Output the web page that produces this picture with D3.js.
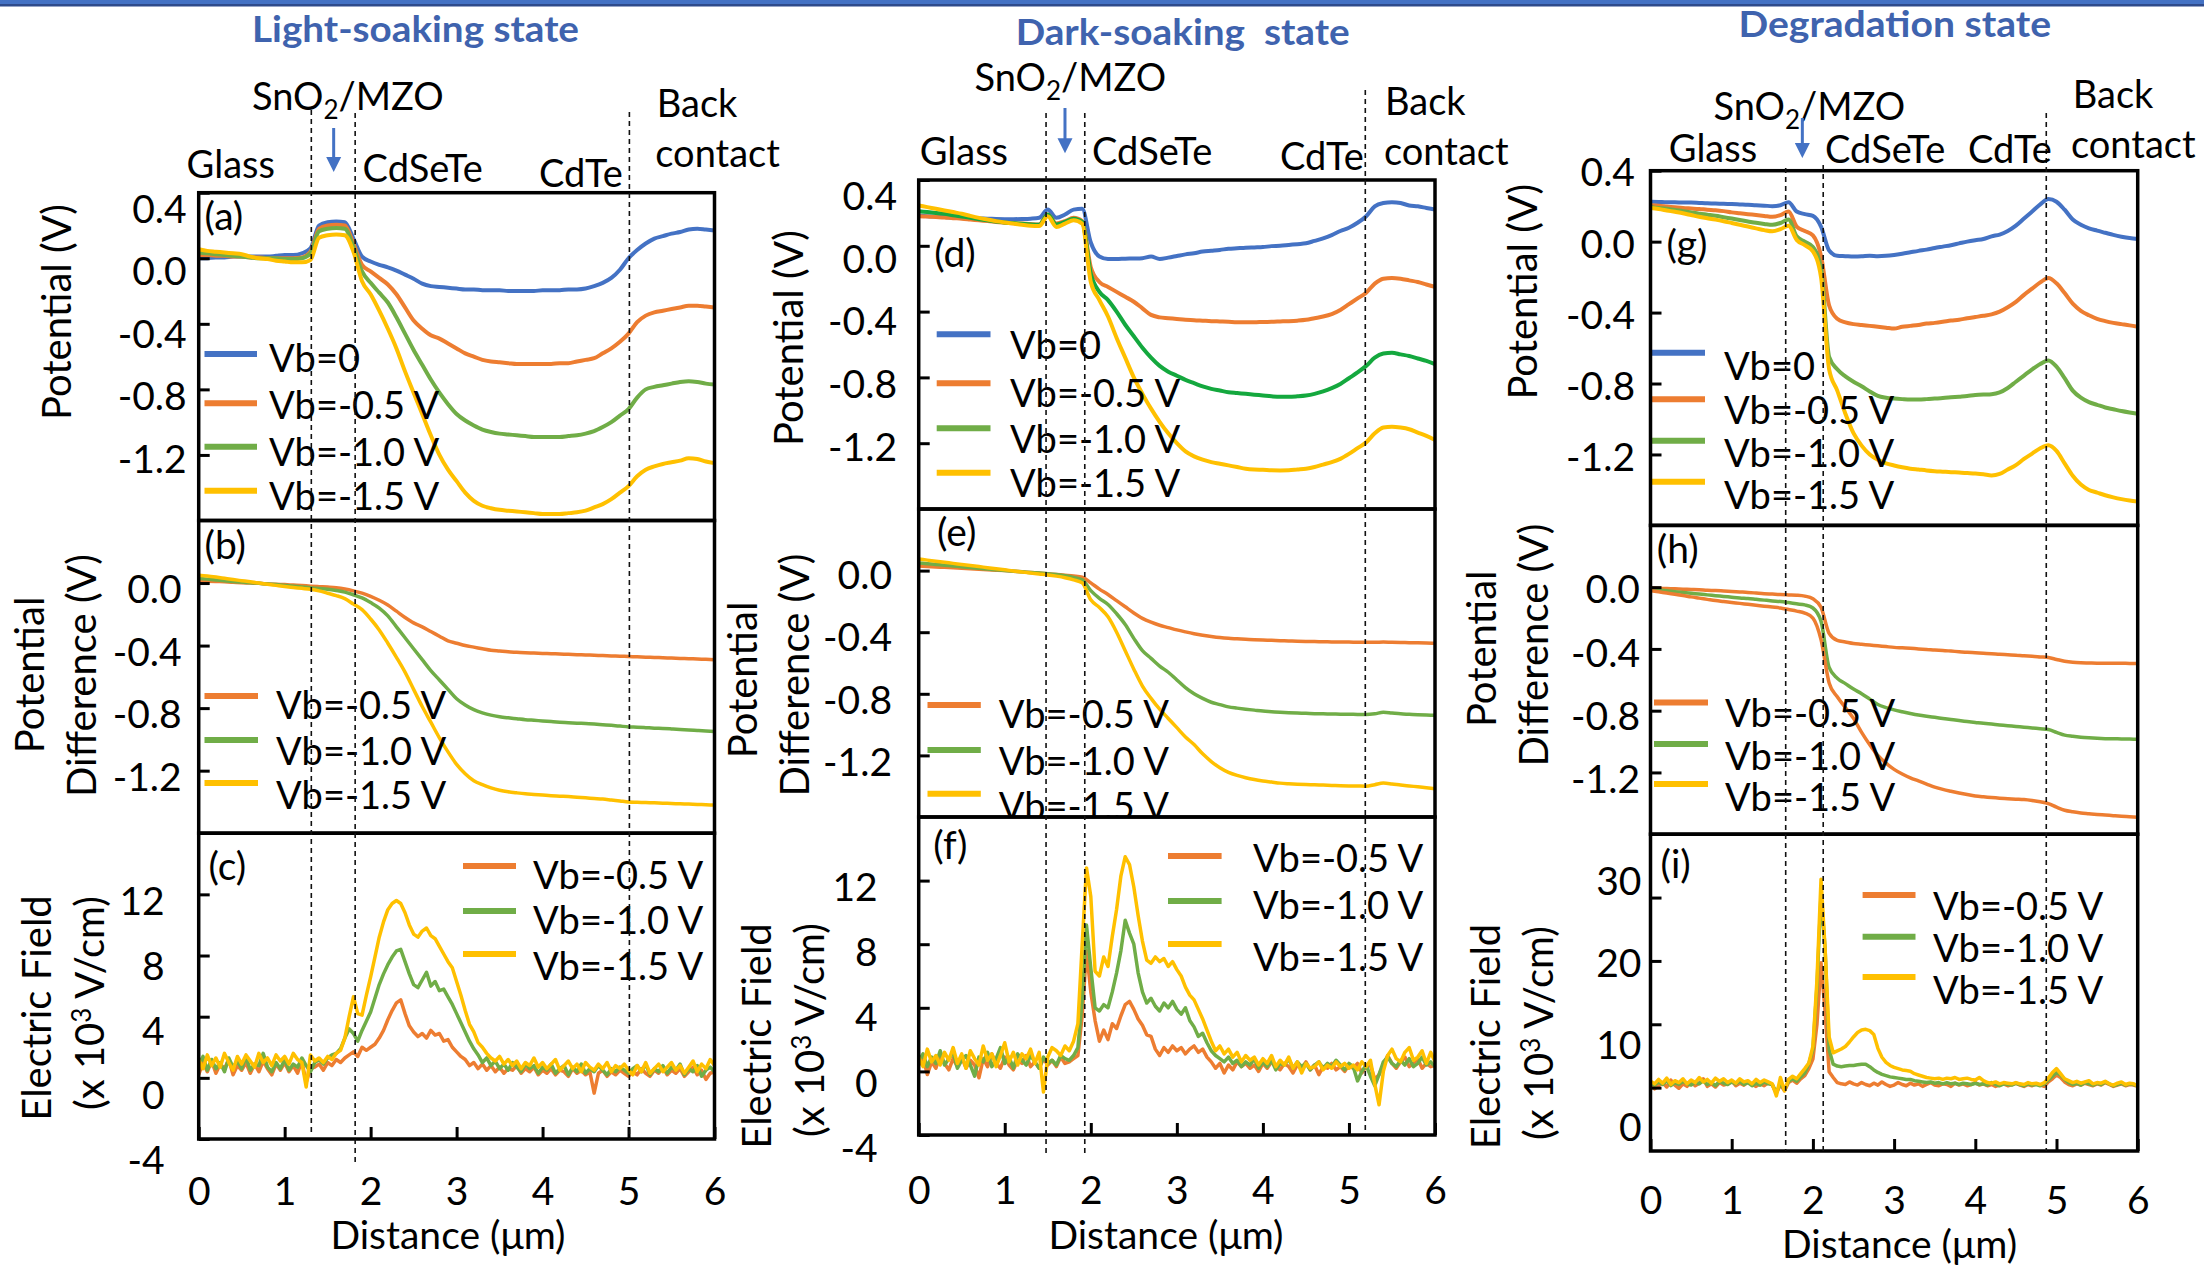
<!DOCTYPE html>
<html>
<head>
<meta charset="utf-8">
<script src="https://cdn.jsdelivr.net/npm/d3@7"></script>
<style>
  body { margin: 0; background: #fff; }
  svg { display: block; font-family: Lato, "Open Sans", sans-serif; }
</style>
</head>
<body>
<svg id="chart" width="2204" height="1265"></svg>
<script>
// sampling grids along the distance axis (µm)
var potX = d3.range(61).map(function(i){ return i / 10; });
var fieldX = d3.range(121).map(function(i){ return i / 20; });
var xTicks = [0, 1, 2, 3, 4, 5, 6];

var vbNames = ["Vb=0", "Vb=-0.5 V", "Vb=-1.0 V", "Vb=-1.5 V"];
var vbColors = ["#4472C4", "#ED7D31", "#70AD47", "#FFC000"];

var potTicks = [0.4, 0, -0.4, -0.8, -1.2];
var diffTicks = [0, -0.4, -0.8, -1.2];
var fieldTicks = [12, 8, 4, 0, -4];
var degFieldTicks = [30, 20, 10, 0];

// layer interfaces (µm) and the SnO2/MZO arrow
var lsInterfaces = [1.31, 1.82, 5.01];
var dsInterfaces = [1.48, 1.93, 5.19];
var dgInterfaces = [1.665, 2.127, 4.874];
var arrowX = [1.57, 1.70, 1.87];

// ---------- Light-soaking state ----------
var lsPot0 = [0.00,0.00,0.005,0.005,0.01,0.01,0.01,0.01,0.01,0.015, 0.02,0.02,0.03,0.06,0.20,0.22,0.225,0.22,0.12,0.01,
  -0.02,-0.04,-0.055,-0.075,-0.10,-0.125,-0.155,-0.17,-0.175,-0.18, -0.185,-0.19,-0.19,-0.195,-0.195,-0.195,-0.20,-0.20,-0.20,-0.20,
  -0.195,-0.195,-0.195,-0.19,-0.19,-0.185,-0.17,-0.15,-0.12,-0.07, 0.00,0.05,0.09,0.12,0.135,0.15,0.16,0.175,0.18,0.175, 0.17];
var lsPot1 = [0.02,0.02,0.015,0.015,0.01,0.01,0.005,0.005,0.0,0.0, 0.0,0.0,0.005,0.04,0.18,0.20,0.205,0.20,0.09,-0.04,
  -0.08,-0.12,-0.16,-0.22,-0.30,-0.38,-0.43,-0.47,-0.49,-0.52, -0.55,-0.58,-0.60,-0.62,-0.63,-0.635,-0.64,-0.645,-0.645,-0.645,
  -0.645,-0.645,-0.64,-0.64,-0.63,-0.62,-0.61,-0.58,-0.55,-0.51, -0.46,-0.39,-0.35,-0.33,-0.32,-0.31,-0.30,-0.29,-0.29,-0.295, -0.30];
var lsPot2 = [0.035,0.03,0.025,0.02,0.015,0.01,0.005,0.0,0.0,0.0, -0.005,-0.005,0.0,0.03,0.165,0.18,0.185,0.18,0.07,-0.08,
  -0.15,-0.21,-0.27,-0.36,-0.46,-0.56,-0.65,-0.74,-0.82,-0.89, -0.95,-0.99,-1.02,-1.045,-1.06,-1.07,-1.075,-1.08,-1.085,-1.09,
  -1.09,-1.09,-1.09,-1.085,-1.08,-1.07,-1.055,-1.03,-1.0,-0.96, -0.92,-0.85,-0.80,-0.785,-0.775,-0.765,-0.755,-0.75,-0.755,-0.765, -0.77];
var lsPot3 = [0.055,0.045,0.04,0.035,0.03,0.025,0.01,0.0,-0.005,-0.015, -0.02,-0.025,-0.025,-0.01,0.125,0.14,0.145,0.14,0.04,-0.14,
  -0.22,-0.32,-0.43,-0.55,-0.69,-0.82,-0.95,-1.08,-1.2,-1.29, -1.36,-1.43,-1.48,-1.51,-1.525,-1.535,-1.54,-1.545,-1.55,-1.555,
  -1.56,-1.56,-1.56,-1.555,-1.55,-1.54,-1.52,-1.50,-1.47,-1.43, -1.39,-1.33,-1.29,-1.27,-1.255,-1.245,-1.235,-1.22,-1.225,-1.24, -1.25];

var lsDiff1 = [0.015,0.012,0.01,0.008,0.005,0.002,0.0,-0.002,-0.005,-0.008, -0.01,-0.013,-0.016,-0.02,-0.023,-0.026,-0.03,-0.038,-0.05,-0.065,
  -0.085,-0.11,-0.14,-0.18,-0.22,-0.255,-0.28,-0.31,-0.34,-0.37, -0.385,-0.40,-0.41,-0.42,-0.43,-0.435,-0.44,-0.443,-0.446,-0.448,
  -0.45,-0.452,-0.454,-0.456,-0.458,-0.46,-0.462,-0.464,-0.466,-0.468, -0.47,-0.472,-0.474,-0.476,-0.478,-0.48,-0.482,-0.484,-0.486,-0.488, -0.49];
var lsDiff2 = [0.03,0.025,0.02,0.015,0.01,0.006,0.002,-0.002,-0.006,-0.01, -0.015,-0.02,-0.025,-0.03,-0.035,-0.04,-0.048,-0.058,-0.075,-0.095,
  -0.125,-0.16,-0.21,-0.28,-0.35,-0.42,-0.49,-0.56,-0.62,-0.68, -0.74,-0.78,-0.81,-0.83,-0.845,-0.855,-0.862,-0.868,-0.874,-0.878,
  -0.882,-0.886,-0.89,-0.893,-0.896,-0.899,-0.902,-0.906,-0.91,-0.915, -0.92,-0.922,-0.925,-0.928,-0.93,-0.933,-0.936,-0.94,-0.943,-0.946, -0.95];
var lsDiff3 = [0.05,0.045,0.038,0.03,0.022,0.015,0.008,0.0,-0.008,-0.015, -0.022,-0.028,-0.034,-0.04,-0.05,-0.065,-0.08,-0.1,-0.135,-0.17,
  -0.23,-0.30,-0.385,-0.475,-0.57,-0.68,-0.79,-0.89,-0.99,-1.08, -1.16,-1.22,-1.265,-1.29,-1.31,-1.325,-1.335,-1.342,-1.348,-1.352,
  -1.356,-1.36,-1.363,-1.366,-1.37,-1.374,-1.378,-1.382,-1.388,-1.394, -1.40,-1.402,-1.404,-1.406,-1.408,-1.41,-1.412,-1.414,-1.416,-1.418, -1.42];

var lsField1 = [0.2,1.0,0.4,1.1,0.3,0.9,0.6,1.2,0.2,0.8, 0.5,1.0,0.3,0.9,0.4,1.1,0.6,0.2,0.9,0.5,
  1.0,0.4,0.8,0.3,1.1,-0.3,0.6,0.7,0.9,0.5, 1.0,0.8,1.2,1.0,1.3,1.5,1.7,1.4,2.0,1.8,
  2.0,2.2,2.6,3.1,3.8,4.4,4.9,5.1,4.2,3.4, 3.0,2.7,2.9,2.6,3.1,2.8,2.9,2.4,2.5,2.0,
  1.7,1.4,1.2,0.8,1.0,0.6,0.9,0.5,0.8,0.4, 0.7,0.3,0.6,0.5,0.8,0.3,0.6,0.4,0.7,0.2,
  0.5,0.3,0.6,0.2,0.5,0.4,0.1,0.6,0.3,0.5, 0.2,0.4,-1.0,0.3,0.5,0.1,0.4,0.2,0.5,0.3,
  0.1,0.4,0.2,0.6,0.3,0.1,0.5,0.3,0.7,0.2, 0.5,0.3,0.6,0.1,0.4,0.7,0.2,0.5,-0.1,0.3, 0.4];
var lsField2 = [0.8,1.4,0.5,1.2,0.6,1.0,0.4,1.3,0.7,1.1, 0.6,1.4,0.5,0.9,0.8,1.6,0.7,0.4,1.0,0.6,
  1.2,0.5,0.9,0.7,1.3,0.8,0.4,1.0,1.2,0.9, 1.3,1.5,1.6,1.9,2.6,3.2,2.9,2.4,3.1,3.7,
  4.3,5.2,6.1,6.8,7.4,7.9,8.3,8.4,7.6,6.8, 6.1,5.9,6.4,6.9,6.0,6.3,5.7,5.8,5.3,4.8,
  4.2,3.6,3.0,2.4,1.9,1.5,1.0,1.3,0.8,1.1, 0.6,0.9,0.5,1.0,0.7,0.4,0.9,0.6,0.8,0.3,
  0.7,0.5,0.9,0.3,0.6,0.8,0.2,0.7,0.4,0.9, 0.3,0.6,0.4,0.8,0.5,0.2,0.6,0.4,0.7,0.5,
  0.3,0.6,0.8,0.4,0.9,0.2,0.6,0.4,0.8,0.3, 0.7,0.5,0.9,0.2,0.6,0.4,0.8,0.1,0.5,0.7, 0.4];
var lsField3 = [1.2,0.6,1.5,0.8,1.3,0.7,1.6,1.0,0.5,1.4, 0.9,1.5,1.1,0.7,1.6,1.0,1.3,0.8,1.5,1.1,
  1.4,0.9,1.6,1.2,1.0,-0.6,1.5,1.1,1.3,1.0, 1.4,1.2,1.6,1.8,2.6,4.0,5.3,4.2,4.1,5.4,
  6.6,7.9,9.2,10.2,11.0,11.4,11.6,11.4,10.8,10.0, 9.4,9.2,9.6,9.8,9.3,9.1,8.6,8.1,7.6,7.2,
  6.3,5.4,4.4,3.5,3.0,2.3,2.0,1.6,1.3,1.1, 1.4,0.9,1.2,0.8,1.1,0.6,1.0,0.8,1.3,0.7,
  1.0,0.6,0.9,1.2,0.5,0.8,1.1,0.6,0.9,0.4, 1.0,0.7,0.5,0.9,0.6,1.0,0.4,0.8,0.6,0.9,
  0.5,0.2,0.8,0.4,1.0,0.3,0.6,0.9,0.4,0.7, 1.0,0.5,0.8,0.3,0.7,1.1,0.4,0.9,0.6,1.2, 0.8];

// ---------- Dark-soaking state ----------
var dsPot0 = [0.185,0.18,0.178,0.175,0.172,0.17,0.168,0.166,0.165,0.163, 0.162,0.162,0.163,0.165,0.17,0.22,0.17,0.19,0.22,0.225,
  0.02,-0.065,-0.08,-0.08,-0.078,-0.077,-0.075,-0.065,-0.08,-0.072, -0.062,-0.052,-0.045,-0.035,-0.03,-0.025,-0.018,-0.015,-0.012,-0.01,
  -0.008,-0.002,0.0,0.005,0.01,0.015,0.03,0.045,0.065,0.09, 0.11,0.14,0.18,0.24,0.26,0.265,0.26,0.245,0.24,0.23, 0.22];
var dsPot1 = [0.18,0.178,0.175,0.172,0.168,0.165,0.16,0.155,0.15,0.145, 0.14,0.137,0.135,0.132,0.13,0.19,0.135,0.15,0.17,0.15,
  -0.13,-0.22,-0.25,-0.28,-0.31,-0.34,-0.38,-0.42,-0.435,-0.44, -0.445,-0.45,-0.452,-0.455,-0.458,-0.46,-0.462,-0.465,-0.465,-0.465,
  -0.463,-0.462,-0.46,-0.458,-0.455,-0.45,-0.44,-0.43,-0.415,-0.39, -0.355,-0.32,-0.285,-0.23,-0.2,-0.195,-0.2,-0.21,-0.22,-0.235, -0.25];
var dsPot2 = [0.21,0.205,0.2,0.195,0.185,0.178,0.17,0.162,0.155,0.148, 0.142,0.138,0.134,0.13,0.128,0.19,0.13,0.145,0.165,0.145,
  -0.17,-0.28,-0.33,-0.4,-0.48,-0.55,-0.62,-0.68,-0.73,-0.765, -0.79,-0.815,-0.835,-0.855,-0.87,-0.88,-0.89,-0.895,-0.9,-0.905,
  -0.91,-0.915,-0.918,-0.918,-0.915,-0.91,-0.9,-0.885,-0.865,-0.84, -0.805,-0.77,-0.73,-0.68,-0.655,-0.65,-0.66,-0.67,-0.685,-0.7, -0.72];
var dsPot3 = [0.245,0.235,0.225,0.215,0.205,0.195,0.182,0.17,0.16,0.15, 0.142,0.135,0.128,0.122,0.12,0.18,0.115,0.135,0.155,0.135,
  -0.22,-0.33,-0.43,-0.56,-0.68,-0.8,-0.9,-0.99,-1.07,-1.14, -1.2,-1.25,-1.28,-1.3,-1.315,-1.325,-1.335,-1.345,-1.355,-1.36,
  -1.362,-1.365,-1.366,-1.365,-1.36,-1.355,-1.345,-1.33,-1.315,-1.295, -1.265,-1.23,-1.195,-1.14,-1.105,-1.1,-1.105,-1.115,-1.135,-1.155, -1.18];

var dsDiff1 = [0.03,0.027,0.024,0.021,0.018,0.015,0.012,0.009,0.006,0.003, 0.0,-0.004,-0.008,-0.012,-0.016,-0.02,-0.025,-0.03,-0.035,-0.043,
  -0.08,-0.12,-0.155,-0.195,-0.235,-0.275,-0.31,-0.335,-0.355,-0.37, -0.385,-0.398,-0.41,-0.42,-0.428,-0.435,-0.44,-0.443,-0.446,-0.449,
  -0.451,-0.453,-0.455,-0.457,-0.459,-0.46,-0.461,-0.462,-0.463,-0.464, -0.464,-0.465,-0.465,-0.466,-0.464,-0.466,-0.467,-0.468,-0.469,-0.47, -0.472];
var dsDiff2 = [0.05,0.045,0.04,0.035,0.03,0.025,0.02,0.015,0.01,0.005, 0.0,-0.004,-0.008,-0.012,-0.016,-0.02,-0.026,-0.034,-0.045,-0.06,
  -0.13,-0.18,-0.22,-0.28,-0.35,-0.44,-0.52,-0.57,-0.62,-0.66, -0.71,-0.76,-0.8,-0.83,-0.855,-0.87,-0.885,-0.893,-0.9,-0.906,
  -0.912,-0.916,-0.92,-0.923,-0.925,-0.927,-0.929,-0.93,-0.931,-0.932, -0.933,-0.934,-0.935,-0.93,-0.92,-0.925,-0.93,-0.933,-0.936,-0.938, -0.94];
var dsDiff3 = [0.075,0.068,0.061,0.054,0.047,0.04,0.033,0.026,0.019,0.012, 0.005,-0.002,-0.009,-0.016,-0.022,-0.028,-0.036,-0.046,-0.06,-0.08,
  -0.19,-0.24,-0.3,-0.4,-0.52,-0.64,-0.75,-0.83,-0.9,-0.96, -1.02,-1.08,-1.13,-1.19,-1.24,-1.28,-1.31,-1.33,-1.345,-1.357,
  -1.366,-1.373,-1.38,-1.384,-1.387,-1.389,-1.391,-1.393,-1.395,-1.397, -1.398,-1.399,-1.40,-1.39,-1.38,-1.385,-1.392,-1.398,-1.404,-1.41, -1.416];

var dsField1 = [0.4,0.9,-0.2,0.6,0.2,1.0,0.5,0.1,0.8,0.3, 0.9,0.2,0.7,0.4,-0.4,0.8,0.3,1.1,0.5,0.2,
  0.9,0.4,0.1,0.7,0.5,1.0,0.3,0.6,0.2,0.8, 0.4,0.7,0.3,0.9,0.5,0.6,0.8,1.0,3.5,7.6,
  5.0,3.2,1.9,2.6,2.0,3.0,2.7,3.5,4.2,4.4, 3.9,3.3,2.9,2.3,2.2,1.4,1.0,1.5,1.2,1.6,
  1.3,1.5,1.1,1.4,1.6,1.2,1.4,0.9,0.6,0.2, 0.5,-0.1,0.4,0.1,0.6,0.3,0.5,0.2,0.4,0.0,
  0.5,0.2,0.6,0.3,0.1,0.5,0.3,-0.1,0.4,0.2, 0.6,0.1,0.4,-0.2,0.3,0.2,0.5,0.1,0.3,0.0,
  0.4,0.2,0.5,-0.1,0.3,0.4,-0.5,-0.2,0.4,1.0, 0.5,0.2,0.6,0.9,0.3,0.5,0.8,0.2,0.5,0.3, 0.4];
var dsField2 = [0.6,1.1,0.3,0.9,0.5,1.3,0.4,0.8,1.2,0.2, 0.7,1.0,0.4,-0.3,0.9,0.6,1.2,0.3,0.8,1.5,
  0.5,0.9,0.2,1.1,0.7,0.4,1.0,0.6,0.2,0.9, 0.5,0.7,0.4,1.0,0.8,0.7,1.0,1.5,4.5,9.2,
  6.5,4.0,3.8,4.2,4.0,5.0,6.2,7.6,9.5,8.7, 8.0,6.2,5.0,4.3,4.6,4.1,3.8,4.3,4.0,4.4,
  3.9,3.6,4.0,3.2,2.8,2.2,2.4,1.8,1.3,1.0, 0.8,0.6,0.9,0.5,0.7,0.3,0.6,0.4,0.8,0.2,
  0.6,0.3,0.7,0.1,0.5,0.4,0.8,0.2,0.6,0.3, 0.5,0.1,0.4,0.6,0.2,0.5,0.3,0.7,0.4,0.1,
  0.5,0.3,-0.6,0.0,0.4,-0.3,-0.9,-0.2,0.6,0.9, 0.5,0.3,0.7,0.4,0.8,0.3,0.5,0.9,0.4,0.6, 0.3];
var dsField3 = [0.9,0.3,1.4,0.6,1.0,0.4,1.2,0.7,1.5,0.5, 1.1,0.2,1.3,0.8,0.4,1.6,0.7,1.1,0.3,1.0,
  1.8,0.6,1.2,0.4,1.1,0.8,1.4,0.5,1.2,-1.3, 0.9,1.5,1.3,1.0,1.6,1.3,1.9,3.0,8.0,12.8,
  11.0,6.3,6.0,7.2,6.6,8.5,10.2,12.3,13.5,13.0, 11.6,9.8,8.2,7.0,6.8,7.2,6.9,7.1,6.6,6.9,
  6.4,6.0,5.3,4.8,4.5,3.9,3.3,2.6,1.9,1.3, 1.6,1.1,1.4,0.9,1.2,0.6,1.0,0.7,0.9,0.4,
  0.8,0.5,1.0,0.3,0.7,0.4,0.9,0.2,0.6,-0.1, 0.5,0.2,0.3,0.6,0.1,0.4,0.2,0.6,0.3,0.5,
  0.2,0.4,0.1,0.6,0.3,0.7,-0.8,-2.1,0.0,1.0, 1.4,0.8,0.6,1.2,1.5,0.7,0.9,1.3,0.5,1.2, 0.6];

// ---------- Degradation state ----------
var dgPot0 = [0.225,0.224,0.222,0.222,0.22,0.22,0.218,0.216,0.215,0.213, 0.212,0.21,0.208,0.205,0.203,0.2,0.205,0.222,0.17,0.155,
  0.145,0.085,-0.05,-0.08,-0.082,-0.084,-0.083,-0.08,-0.082,-0.08, -0.075,-0.068,-0.06,-0.052,-0.045,-0.036,-0.028,-0.02,-0.01,0.0,
  0.008,0.015,0.03,0.04,0.06,0.09,0.13,0.17,0.21,0.24, 0.225,0.18,0.125,0.095,0.075,0.062,0.05,0.038,0.028,0.02, 0.015];
var dgPot1 = [0.205,0.202,0.198,0.194,0.19,0.187,0.184,0.18,0.177,0.172, 0.165,0.16,0.155,0.15,0.145,0.14,0.15,0.17,0.085,0.06,
  0.035,-0.08,-0.36,-0.435,-0.455,-0.465,-0.47,-0.475,-0.48,-0.485, -0.49,-0.48,-0.475,-0.47,-0.462,-0.458,-0.452,-0.445,-0.44,-0.432,
  -0.425,-0.418,-0.41,-0.395,-0.37,-0.34,-0.3,-0.265,-0.23,-0.205, -0.235,-0.29,-0.35,-0.39,-0.415,-0.435,-0.448,-0.458,-0.465,-0.472, -0.48];
var dgPot2 = [0.196,0.19,0.185,0.178,0.172,0.165,0.158,0.152,0.146,0.138, 0.13,0.122,0.114,0.106,0.1,0.095,0.105,0.125,0.03,0.0,
  -0.03,-0.15,-0.65,-0.72,-0.76,-0.79,-0.815,-0.845,-0.87,-0.88, -0.885,-0.888,-0.89,-0.89,-0.888,-0.885,-0.882,-0.878,-0.874,-0.87,
  -0.865,-0.862,-0.86,-0.85,-0.825,-0.79,-0.755,-0.72,-0.69,-0.67, -0.705,-0.77,-0.84,-0.88,-0.905,-0.92,-0.935,-0.945,-0.955,-0.963, -0.97];
var dgPot3 = [0.19,0.184,0.176,0.168,0.16,0.15,0.14,0.132,0.124,0.115, 0.105,0.095,0.085,0.075,0.065,0.058,0.07,0.09,0.01,-0.02,
  -0.055,-0.2,-0.72,-0.84,-0.97,-1.08,-1.15,-1.2,-1.23,-1.25, -1.262,-1.272,-1.28,-1.285,-1.29,-1.294,-1.297,-1.3,-1.302,-1.305,
  -1.308,-1.312,-1.318,-1.31,-1.285,-1.26,-1.225,-1.195,-1.165,-1.148, -1.18,-1.25,-1.32,-1.37,-1.4,-1.415,-1.43,-1.442,-1.452,-1.46, -1.466];

var dgDiff1 = [-0.005,-0.007,-0.009,-0.011,-0.013,-0.015,-0.017,-0.02,-0.022,-0.025, -0.028,-0.031,-0.034,-0.038,-0.042,-0.045,-0.048,-0.05,-0.052,-0.058,
  -0.075,-0.13,-0.3,-0.345,-0.355,-0.365,-0.37,-0.375,-0.38,-0.385, -0.39,-0.393,-0.396,-0.4,-0.403,-0.407,-0.41,-0.414,-0.418,-0.422,
  -0.425,-0.428,-0.431,-0.435,-0.438,-0.441,-0.445,-0.448,-0.452,-0.456, -0.468,-0.48,-0.487,-0.49,-0.491,-0.492,-0.492,-0.493,-0.493,-0.494, -0.494];
var dgDiff2 = [-0.013,-0.018,-0.023,-0.029,-0.034,-0.039,-0.045,-0.05,-0.055,-0.06, -0.065,-0.07,-0.074,-0.079,-0.084,-0.089,-0.093,-0.1,-0.108,-0.115,
  -0.135,-0.22,-0.52,-0.59,-0.625,-0.66,-0.69,-0.725,-0.76,-0.78, -0.795,-0.807,-0.818,-0.828,-0.836,-0.843,-0.85,-0.857,-0.864,-0.87,
  -0.876,-0.882,-0.887,-0.892,-0.897,-0.902,-0.907,-0.912,-0.917,-0.922, -0.94,-0.958,-0.966,-0.972,-0.976,-0.979,-0.981,-0.982,-0.983,-0.984, -0.985];
var dgDiff3 = [-0.022,-0.03,-0.038,-0.046,-0.054,-0.063,-0.071,-0.079,-0.087,-0.093, -0.099,-0.105,-0.111,-0.117,-0.123,-0.129,-0.135,-0.145,-0.155,-0.168,
  -0.2,-0.34,-0.62,-0.71,-0.78,-0.85,-0.94,-1.02,-1.09,-1.14, -1.18,-1.21,-1.235,-1.255,-1.275,-1.295,-1.31,-1.322,-1.333,-1.343,
  -1.352,-1.358,-1.363,-1.367,-1.37,-1.373,-1.376,-1.382,-1.39,-1.402, -1.425,-1.445,-1.455,-1.462,-1.467,-1.472,-1.476,-1.48,-1.484,-1.487, -1.49];

var dgField1 = [0.5,-0.2,0.3,0.8,0.1,1.2,0.4,-0.1,0.6,0.2, 0.9,0.3,0.7,1.4,0.2,0.6,0.1,0.8,0.4,0.6,
  1.1,0.3,0.7,0.4,0.9,0.5,0.2,0.6,0.3,0.8, 0.4,-0.9,0.5,-0.5,0.8,1.2,0.7,1.4,1.9,3.0,
  4.5,10.0,19.7,12.0,2.5,1.6,0.8,0.6,0.5,0.9, 0.6,0.4,0.8,0.5,0.3,0.7,0.4,0.9,0.5,0.2,
  0.4,0.8,0.5,0.3,0.7,0.4,0.6,0.2,0.5,0.8, 0.4,0.3,0.6,0.5,0.2,0.7,0.4,0.6,0.3,0.5,
  0.8,0.4,0.6,0.3,0.5,0.2,0.4,0.6,0.3,0.5, 0.7,0.4,0.2,0.5,0.3,0.6,0.4,0.2,0.9,1.4,
  2.0,1.6,0.9,0.5,0.3,0.6,0.4,0.7,0.5,0.3, 0.6,0.4,0.8,0.5,0.2,0.4,0.6,0.3,0.5,0.4, 0.2];
var dgField2 = [0.7,0.4,0.9,0.5,1.1,0.3,0.8,0.5,1.0,0.6, 0.4,0.9,0.6,1.1,0.5,0.8,0.3,1.0,0.7,0.5,
  0.9,0.6,1.0,0.5,0.8,0.3,0.7,0.4,0.9,0.6, 0.5,-0.8,0.7,-0.3,1.0,1.4,1.0,1.7,2.3,3.8,
  6.0,16.0,30.5,22.0,6.0,3.7,3.4,3.3,3.4,3.5, 3.5,3.6,3.7,3.7,3.3,2.8,2.4,2.1,1.9,1.7,
  1.6,1.5,1.4,1.3,1.3,1.1,1.0,0.9,0.8,0.9, 0.7,0.8,0.6,0.8,0.6,0.7,0.5,0.7,0.6,0.5,
  0.7,0.5,0.6,0.4,0.8,0.5,0.3,0.6,0.5,0.4, 0.7,0.5,0.3,0.6,0.4,0.5,0.3,0.6,1.2,1.8,
  2.4,2.0,1.3,0.8,0.5,0.7,0.4,0.8,0.6,0.4, 0.7,0.5,0.9,0.6,0.3,0.5,0.7,0.4,0.6,0.5, 0.3];
var dgField3 = [1.0,0.6,1.3,0.7,1.5,0.5,1.1,0.8,1.4,0.6, 1.2,0.8,1.6,0.9,1.3,0.7,1.5,1.0,1.4,0.8,
  1.2,0.7,1.4,0.9,1.1,0.6,1.3,0.8,1.2,0.9, 0.6,-1.3,1.6,-0.5,1.3,1.8,1.4,2.2,3.0,3.9,
  6.5,17.0,32.9,22.0,8.0,5.5,5.8,6.1,6.5,7.2, 8.0,8.7,9.1,9.2,9.0,8.4,6.2,4.8,4.0,3.5,
  3.2,3.0,2.8,2.7,2.6,2.2,2.0,1.8,1.6,1.5, 1.4,1.5,1.3,1.5,1.4,1.6,1.3,1.4,1.5,1.3,
  1.2,1.6,1.1,0.8,0.7,0.9,0.6,0.8,0.7,0.6, 0.8,0.6,0.5,0.8,0.6,0.7,0.5,0.8,1.5,2.4,
  3.0,2.2,1.4,1.1,0.8,1.0,0.7,0.9,1.1,0.6, 0.8,0.7,1.0,0.6,0.4,0.7,0.9,0.5,0.7,0.6, 0.3];

// ---------- layout ----------
var FS = 39;
var fmt1 = function(v){ return v.toFixed(1); };
var fmtInt = function(v){ return String(v); };

var cols = [
  { left: 198.7, right: 714.5, interfaces: lsInterfaces, dashTop: [110, 113, 112], dashBottom: [1132, 1164, 1139],
    xPad: 38, dist: [448, 1235], title: "Light-soaking state", titleX: 252, titleY: 42, titleW: 327,
    sno: [252, 110], arrow: [128, 172], glass: [186.6, 178], cdsete: [362.6, 181.7], cdte: [539, 186.7], back: [656.8, 116.7], contact: [655.3, 166.7] },
  { left: 918.7, right: 1435, interfaces: dsInterfaces, dashTop: [113, 113, 90], dashBottom: [1154, 1154, 1134],
    xPad: 41, dist: [1166, 1235], title: "Dark-soaking  state", titleX: 1015.7, titleY: 45, titleW: 334,
    sno: [974.5, 91], arrow: [108, 153.3], glass: [919.7, 165], cdsete: [1092, 165], cdte: [1280, 170], back: [1385, 115], contact: [1384, 165] },
  { left: 1650.5, right: 2137.7, interfaces: dgInterfaces, dashTop: [168, 165, 113], dashBottom: [1151, 1151, 1151],
    xPad: 35, dist: [1899.6, 1244], title: "Degradation state", titleX: 1738.5, titleY: 37, titleW: 312.5,
    sno: [1713.5, 120], arrow: [118, 158], glass: [1668.8, 161.7], cdsete: [1825, 163.3], cdte: [1968, 163.3], back: [2072.8, 108.3], contact: [2071, 158.3] }
];

var panels = [
  { col: 0, top: 192.7, bottom: 520.5, domain: [-1.6, 0.4], ticks: potTicks, lab: [0.4, 210, -1.2, 460], pad: 12, fmt: fmt1, smooth: true, width: 4,
    series: [[lsPot0, 0], [lsPot1, 1], [lsPot2, 2], [lsPot3, 3]],
    legend: { x0: 204.5, x1: 257, tx: 269, idx: [0, 1, 2, 3], ly: [354, 403.3, 446.7, 490.7], ty: [358.3, 405.8, 452, 496.7] },
    tag: ["(a)", 204.5, 230], titles: [["Potential (V)", 57, 312]] },
  { col: 0, top: 520.5, bottom: 833.2, domain: [-1.6, 0.4], ticks: diffTicks, lab: [0, 590, -1.2, 778], pad: 17, fmt: fmt1, smooth: true, width: 3.5,
    series: [[lsDiff1, 1], [lsDiff2, 2], [lsDiff3, 3]],
    legend: { x0: 204.5, x1: 258, tx: 276, idx: [1, 2, 3], ly: [696, 740, 783], ty: [705, 751, 795] },
    tag: ["(b)", 204.5, 558.5], titles: [["Potential", 30, 675], ["Difference (V)", 82, 675.6]] },
  { col: 0, top: 833.2, bottom: 1139, domain: [-4, 16], ticks: fieldTicks, lab: [12, 902.5, -4, 1161], pad: 34, fmt: fmtInt, smooth: false, width: 3.5, xAxis: true,
    series: [[lsField1, 1], [lsField2, 2], [lsField3, 3]],
    legend: { x0: 463, x1: 516, tx: 533, idx: [1, 2, 3], ly: [866, 911, 954], ty: [875.7, 920.6, 966] },
    tag: ["(c)", 208.5, 879.6], titles: [["Electric Field", 36.5, 1008], ["field", 89.7, 1003]] },

  { col: 1, top: 180, bottom: 509, domain: [-1.6, 0.4], ticks: potTicks, lab: [0.4, 196.7, -1.2, 448.3], pad: 21.7, fmt: fmt1, smooth: true, width: 4,
    series: [[dsPot0, 0], [dsPot1, 1], [dsPot2, 2, "#14A83E"], [dsPot3, 3]],
    legend: { x0: 936.7, x1: 990.5, tx: 1010, idx: [0, 1, 2, 3], ly: [334.3, 383.3, 428.3, 472.7], ty: [345, 393, 439, 483] },
    tag: ["(d)", 934.2, 266.7], titles: [["Potential (V)", 789, 338]] },
  { col: 1, top: 509, bottom: 817, domain: [-1.6, 0.4], ticks: diffTicks, lab: [0, 575.6, -1.2, 763.5], pad: 26.7, fmt: fmt1, smooth: true, width: 3.5,
    series: [[dsDiff1, 1], [dsDiff2, 2], [dsDiff3, 3]],
    legend: { x0: 927.5, x1: 980.8, tx: 998.7, idx: [1, 2, 3], ly: [705, 750, 793.7], ty: [714.7, 761, 806] },
    tag: ["(e)", 937, 546], titles: [["Potential", 743, 680], ["Difference (V)", 795, 675]] },
  { col: 1, top: 817, bottom: 1135, domain: [-4, 16], ticks: fieldTicks, lab: [12, 887.9, -4, 1148.9], pad: 41, fmt: fmtInt, smooth: false, width: 3.5, xAxis: true,
    series: [[dsField1, 1], [dsField2, 2], [dsField3, 3]],
    legend: { x0: 1168, x1: 1221.6, tx: 1253, idx: [1, 2, 3], ly: [856, 901, 944], ty: [858.6, 905, 957.7] },
    tag: ["(f)", 933.3, 858.6], titles: [["Electric Field", 756.5, 1036], ["field", 809.7, 1030]] },

  { col: 2, top: 170.7, bottom: 525.4, domain: [-1.6, 0.4], ticks: potTicks, lab: [0.4, 173.3, -1.2, 458.3], pad: 15.5, fmt: fmt1, smooth: true, width: 4,
    series: [[dgPot0, 0], [dgPot1, 1], [dgPot2, 2], [dgPot3, 3]],
    legend: { x0: 1652, x1: 1705, tx: 1724, idx: [0, 1, 2, 3], ly: [352.7, 399.3, 440.7, 481.7], ty: [366.7, 410.7, 453.3, 495] },
    tag: ["(g)", 1666.4, 258], titles: [["Potential (V)", 1523, 291.7]] },
  { col: 2, top: 525.4, bottom: 834.2, domain: [-1.6, 0.4], ticks: diffTicks, lab: [0, 590.3, -1.2, 780.5], pad: 10.5, fmt: fmt1, smooth: true, width: 3.5,
    series: [[dgDiff1, 1], [dgDiff2, 2], [dgDiff3, 1]],
    legend: { x0: 1654, x1: 1708, tx: 1725, idx: [1, 2, 3], ly: [702.5, 744, 784], ty: [713.7, 756, 797.6] },
    tag: ["(h)", 1656.8, 563.4], titles: [["Potential", 1481.5, 648.8], ["Difference (V)", 1534, 645]] },
  { col: 2, top: 834.2, bottom: 1151, domain: [-10, 40], ticks: degFieldTicks, lab: [30, 881.7, 0, 1128.3], pad: 9, fmt: fmtInt, smooth: false, width: 3.5, xAxis: true,
    series: [[dgField1, 1], [dgField2, 2], [dgField3, 3]],
    legend: { x0: 1862.6, x1: 1915.5, tx: 1933, idx: [1, 2, 3], ly: [895, 936.7, 977], ty: [906, 948, 990] },
    tag: ["(i)", 1660.6, 878], titles: [["Electric Field", 1486, 1036.5], ["field", 1539, 1033]] }
];

var svg = d3.select("#chart");
svg.append("rect").attr("width", 2204).attr("height", 1265).attr("fill", "#fff");

// slide header band
svg.append("rect").attr("x", 0).attr("y", 0).attr("width", 2204).attr("height", 4).attr("fill", "#4472C4");
svg.append("rect").attr("x", 0).attr("y", 4).attr("width", 2204).attr("height", 2.5).attr("fill", "#2F4B8B");

cols.forEach(function(c){
  c.x = d3.scaleLinear().domain([0, 6]).range([c.left, c.right]);
});

panels.forEach(function(p, pi){
  var c = cols[p.col];
  var x = c.x;
  var y = d3.scaleLinear().domain(p.domain).range([p.bottom, p.top]);
  var yLab = d3.scaleLinear().domain([p.lab[0], p.lab[2]]).range([p.lab[1], p.lab[3]]);
  var g = svg.append("g");

  svg.append("clipPath").attr("id", "clip" + pi)
    .append("rect")
      .attr("x", c.left).attr("y", p.top)
      .attr("width", c.right - c.left).attr("height", p.bottom - p.top);

  var inner = g.append("g").attr("clip-path", "url(#clip" + pi + ")");

  var line = d3.line()
    .x(function(d){ return x(d[0]); })
    .y(function(d){ return y(d[1]); })
    .curve(p.smooth ? d3.curveMonotoneX : d3.curveLinear);

  p.series.forEach(function(s){
    var vals = s[0];
    var xs = vals.length === 61 ? potX : fieldX;
    inner.append("path")
      .datum(xs.map(function(v, i){ return [v, vals[i]]; }))
      .attr("d", line)
      .attr("fill", "none")
      .attr("stroke", s[2] || vbColors[s[1]])
      .attr("stroke-width", p.width)
      .attr("stroke-linejoin", "round");
  });

  // legend
  var lg = inner.append("g");
  p.legend.idx.forEach(function(k, i){
    lg.append("line")
      .attr("x1", p.legend.x0).attr("x2", p.legend.x1)
      .attr("y1", p.legend.ly[i]).attr("y2", p.legend.ly[i])
      .attr("stroke", vbColors[k]).attr("stroke-width", 6);
    lg.append("text")
      .attr("x", p.legend.tx).attr("y", p.legend.ty[i]).attr("dy", "0.36em")
      .attr("font-size", 38).attr("fill", "#000")
      .text(vbNames[k]);
  });

  // panel tag
  g.append("text").attr("x", p.tag[1]).attr("y", p.tag[2])
    .attr("font-size", FS).attr("fill", "#000").text(p.tag[0]);

  // tick marks (inside)
  g.append("g").attr("transform", "translate(" + c.left + ",0)")
    .call(d3.axisLeft(y).tickValues(p.ticks).tickSize(-11).tickFormat(""))
    .call(function(a){
      a.select(".domain").remove();
      a.selectAll("line").attr("stroke", "#000").attr("stroke-width", 3);
    });

  // tick labels
  g.append("g").attr("transform", "translate(" + c.left + ",0)")
    .call(d3.axisLeft(yLab).tickValues(p.ticks).tickSize(0).tickPadding(p.pad).tickFormat(p.fmt))
    .call(function(a){
      a.select(".domain").remove();
      a.attr("font-size", FS).attr("font-family", "Lato, sans-serif");
      a.selectAll("text").attr("fill", "#000");
    });

  if (p.xAxis) {
    g.append("g").attr("transform", "translate(0," + p.bottom + ")")
      .call(d3.axisBottom(x).tickValues(xTicks).tickSize(-12).tickPadding(c.xPad).tickFormat(d3.format("d")))
      .call(function(a){
        a.select(".domain").remove();
        a.attr("font-size", 39).attr("font-family", "Lato, sans-serif");
        a.selectAll("line").attr("stroke", "#000").attr("stroke-width", 3);
        a.selectAll("text").attr("fill", "#000");
      });
  }

  // axis titles
  p.titles.forEach(function(t){
    var tx = g.append("text")
      .attr("transform", "translate(" + t[1] + "," + t[2] + ") rotate(-90)")
      .attr("text-anchor", "middle").attr("dy", "0.36em")
      .attr("font-size", 40).attr("fill", "#000");
    if (t[0] === "field") {
      tx.append("tspan").text("(x 10");
      tx.append("tspan").attr("font-size", 26).attr("dy", -13).text("3");
      tx.append("tspan").attr("dy", 13).text(" V/cm)");
    } else {
      tx.text(t[0]);
    }
  });

  // frame
  g.append("rect")
    .attr("x", c.left).attr("y", p.top)
    .attr("width", c.right - c.left).attr("height", p.bottom - p.top)
    .attr("fill", "none").attr("stroke", "#000").attr("stroke-width", 3.5);
});

// column-level decorations
cols.forEach(function(c, ci){
  var x = c.x;

  c.interfaces.forEach(function(v, i){
    svg.append("line")
      .attr("x1", x(v)).attr("x2", x(v))
      .attr("y1", c.dashTop[i]).attr("y2", c.dashBottom[i])
      .attr("stroke", "#111").attr("stroke-width", 1.6)
      .attr("stroke-dasharray", "5,4");
  });

  svg.append("text")
    .attr("x", c.titleX).attr("y", c.titleY)
    .attr("font-size", 36).attr("font-weight", 700).attr("fill", "#3F63AE")
    .attr("textLength", c.titleW).attr("lengthAdjust", "spacingAndGlyphs")
    .style("white-space", "pre")
    .text(c.title);

  var sno = svg.append("text").attr("x", c.sno[0]).attr("y", c.sno[1])
    .attr("font-size", 38).attr("fill", "#000");
  sno.append("tspan").text("SnO");
  sno.append("tspan").attr("font-size", 26).attr("dy", 9).text("2");
  sno.append("tspan").attr("dy", -9).text("/MZO");

  var ax = x(arrowX[ci]);
  svg.append("line")
    .attr("x1", ax).attr("x2", ax)
    .attr("y1", c.arrow[0]).attr("y2", c.arrow[1] - 12)
    .attr("stroke", "#4472C4").attr("stroke-width", 3);
  svg.append("path")
    .attr("d", d3.line()([[ax - 7.5, c.arrow[1] - 15], [ax + 7.5, c.arrow[1] - 15], [ax, c.arrow[1]]]) + "Z")
    .attr("fill", "#4472C4");

  [["Glass", c.glass], ["CdSeTe", c.cdsete], ["CdTe", c.cdte], ["Back", c.back], ["contact", c.contact]].forEach(function(a){
    svg.append("text").attr("x", a[1][0]).attr("y", a[1][1])
      .attr("font-size", 38).attr("fill", "#000").text(a[0]);
  });

  svg.append("text")
    .attr("x", c.dist[0]).attr("y", c.dist[1]).attr("dy", "0.36em")
    .attr("text-anchor", "middle").attr("font-size", 39).attr("fill", "#000")
    .text("Distance (μm)");
});
</script>
</body>
</html>
